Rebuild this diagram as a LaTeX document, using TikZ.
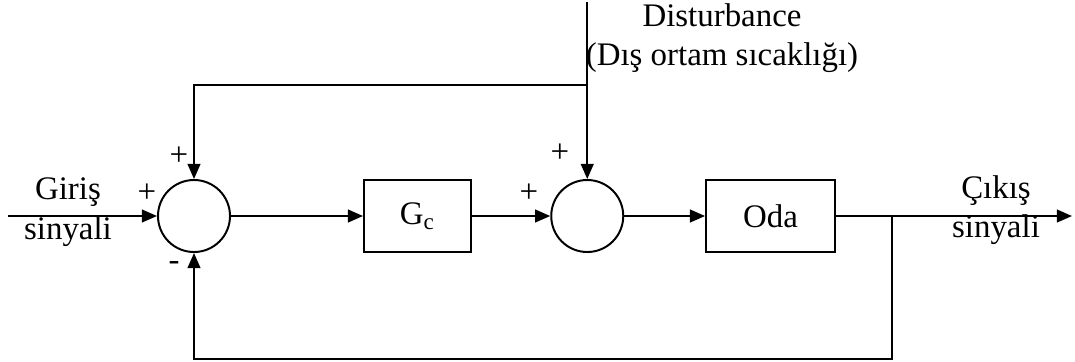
\documentclass[tikz,border=0pt]{standalone}
\usepackage{fontspec}
\setmainfont{Liberation Serif}
\usetikzlibrary{positioning,calc,arrows.meta}

\begin{document}
\begin{tikzpicture}[
    x=0.0125cm, y=-0.0125cm,
    font=\fontsize{11.7}{14}\selectfont,
    sum/.style={circle, draw, line width=0.7pt, minimum size=0.9cm, inner sep=0pt},
    block/.style={rectangle, draw, line width=0.7pt, minimum width=#1,
                  minimum height=0.89cm, inner sep=0pt},
    sig/.style={line width=0.7pt},
    arr/.style={sig, -{Triangle[length=0.19cm, width=0.16cm]}},
    sgn/.style={inner sep=0pt},
    txt/.style={align=center, inner sep=0pt}
]
\useasboundingbox (0,0) rectangle (1075,361);

% Forward path
\node[sum] (sum1) at (194,216) {};
\node[block=1.34cm, right=1.65cm of sum1] (gc) {G\textsubscript{c}};
\node[sum, right=0.975cm of gc] (sum2) {};
\node[block=1.61cm, right=1.01cm of sum2] (oda) {Oda};

% Free ends and corners
\coordinate (in) at (8,216);
\coordinate (out) at (1072,216);
\coordinate (branch) at (892,216);
\coordinate (fb) at (892,359);
\coordinate (dist) at (sum2 |- 0,2);
\coordinate (split) at (sum2 |- 0,85);

\draw[arr] (in) -- (sum1);
\draw[arr] (sum1) -- (gc);
\draw[arr] (gc) -- (sum2);
\draw[arr] (sum2) -- (oda);
\draw[arr] (oda) -- (out);
\draw[arr] (dist) -- (sum2);
\draw[arr] (split) -| (sum1);
\draw[arr] (branch) -- (fb) -| (sum1);

% Signs
\node[sgn] (s1a) at (147,193) {+};
\node[sgn] (s1b) at (179,156) {+};
\node[sgn] (s1c) at (174,266) {-};
\node[sgn] (s2a) at (529,193) {+};
\node[sgn] (s2b) at (560,153) {+};

% Labels
\node[txt] (giris) at (68,212) {Giriş\\sinyali};
\node[txt] (cikis) at (996,210) {Çıkış\\sinyali};
\node[txt] (distlbl) at (722,38) {Disturbance\\(Dış ortam sıcaklığı)};

\end{tikzpicture}
\end{document}
